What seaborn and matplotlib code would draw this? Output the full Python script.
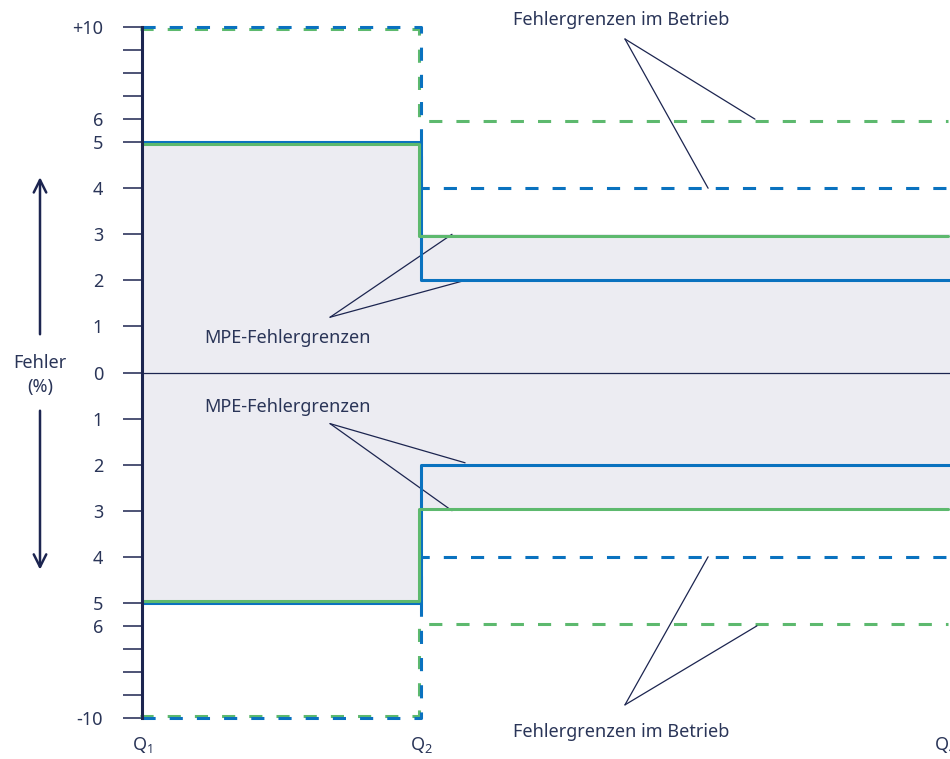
import numpy as np
import pandas as pd
import matplotlib
matplotlib.use('Agg')
import matplotlib.pyplot as plt
import matplotlib.transforms as mtransforms
import seaborn as sns

# flow points on the x axis
q_labels = [r'$\mathrm{Q}_1$', r'$\mathrm{Q}_2$', r'$\mathrm{Q}_4$']
q_pos = [0, 1, 2.88]
x_end = 2.896

# error limits in %, before Q2 / from Q2 on
mpe_blue = [5, 2]
mpe_green = [5, 3]
betrieb_blue = [10, 4]
betrieb_green = [10, 6]

ytick_vals = [10, 6, 5, 4, 3, 2, 1, 0, -1, -2, -3, -4, -5, -6, -10]
ytick_labels = ['+10', '6', '5', '4', '3', '2', '1', '0', '1', '2', '3', '4', '5', '6', '-10']
minor_vals = [9, 8, 7, -7, -8, -9]

BLUE = '#0A72BF'
GREEN = '#5DB96E'
NAVY = '#1C2550'
TEXT = '#2A3558'
FILL = '#ECECF2'
FS = 13

sns.set_style('white')
plt.rcParams['font.family'] = ['Noto Sans', 'DejaVu Sans']
plt.rcParams['mathtext.fontset'] = 'custom'
plt.rcParams['mathtext.rm'] = 'Noto Sans'
plt.rcParams['mathtext.it'] = 'Noto Sans'


# axis is compressed above |5|
def fwd(y):
    y = np.asarray(y, dtype=float)
    a = np.abs(y)
    return np.where(a <= 5, y, np.sign(y) * (5 + (a - 5) * 0.5))


def inv(t):
    t = np.asarray(t, dtype=float)
    a = np.abs(t)
    return np.where(a <= 5, t, np.sign(t) * (5 + (a - 5) * 2))


def step(limits, sign):
    before, after = limits
    return pd.DataFrame({'x': [0, q_pos[1], q_pos[1], x_end],
                         'y': [sign * before, sign * before, sign * after, sign * after]})


fig = plt.figure(figsize=(9.5, 7.59), dpi=100)
ax = fig.add_axes([142 / 950, 41 / 759, 1 - 142 / 950, 691 / 759])
ax.set_yscale('function', functions=(fwd, inv))

# grey area between the MPE limits
up = step(mpe_green, 1)
lo = step(mpe_green, -1)
ax.fill_between(up['x'], lo['y'], up['y'], color=FILL, lw=0, zorder=0)
ax.axhline(0, color=NAVY, lw=0.9, zorder=1)

dash = (0, (4.3, 4.6))
for sign in [1, -1]:
    off = mtransforms.offset_copy(ax.transData, fig=fig, x=-2, y=-2 * sign, units='dots')
    sns.lineplot(data=step(betrieb_green, sign), x='x', y='y', estimator=None, sort=False,
                 color=GREEN, lw=2.2, linestyle=dash, transform=off, clip_on=False, ax=ax, zorder=3)
    sns.lineplot(data=step(betrieb_blue, sign), x='x', y='y', estimator=None, sort=False,
                 color=BLUE, lw=2.2, linestyle=dash, clip_on=False, ax=ax, zorder=3)
    sns.lineplot(data=step(mpe_blue, sign), x='x', y='y', estimator=None, sort=False,
                 color=BLUE, lw=2.2, ax=ax, zorder=4)
    sns.lineplot(data=step(mpe_green, sign), x='x', y='y', estimator=None, sort=False,
                 color=GREEN, lw=2.2, transform=off, ax=ax, zorder=4)

ax.set_xlim(0, x_end)
ax.set_ylim(-10, 10)
ax.set_xlabel('')
ax.set_ylabel('')

ax.set_yticks(ytick_vals, ytick_labels)
ax.set_yticks(minor_vals, minor=True)
ax.tick_params(axis='y', which='both', length=14, width=1.1, color=NAVY,
               labelcolor=TEXT, labelsize=FS, pad=14, left=True)
ax.set_xticks(q_pos, q_labels)
ax.tick_params(axis='x', length=0, pad=12, labelcolor=TEXT, labelsize=FS)

for s in ['top', 'right', 'bottom']:
    ax.spines[s].set_visible(False)
ax.spines['left'].set_color(NAVY)
ax.spines['left'].set_linewidth(2.2)
ax.spines['left'].set_zorder(5)

# annotations
ann = dict(arrowstyle='-', color=NAVY, lw=0.9, shrinkA=0, shrinkB=0)
fig.text(621 / 950, 1 - 20 / 759, 'Fehlergrenzen im Betrieb', ha='center', va='center',
         color=TEXT, fontsize=FS)
ax.annotate('', xy=(2.197, 6), xytext=(1.731, 9.48), arrowprops=ann, annotation_clip=False)
ax.annotate('', xy=(2.029, 4), xytext=(1.731, 9.48), arrowprops=ann, annotation_clip=False)

fig.text(621 / 950, 1 - 732 / 759, 'Fehlergrenzen im Betrieb', ha='center', va='center',
         color=TEXT, fontsize=FS)
ax.annotate('', xy=(2.029, -4), xytext=(1.731, -9.43), arrowprops=ann, annotation_clip=False)
ax.annotate('', xy=(2.204, -6), xytext=(1.731, -9.43), arrowprops=ann, annotation_clip=False)

ax.text(0.52, 0.74, 'MPE-Fehlergrenzen', ha='center', va='center', color=TEXT, fontsize=FS)
ax.annotate('', xy=(1.111, 3), xytext=(0.674, 1.2), arrowprops=ann)
ax.annotate('', xy=(1.158, 2), xytext=(0.674, 1.2), arrowprops=ann)

ax.text(0.52, -0.74, 'MPE-Fehlergrenzen', ha='center', va='center', color=TEXT, fontsize=FS)
ax.annotate('', xy=(1.158, -1.96), xytext=(0.674, -1.11), arrowprops=ann)
ax.annotate('', xy=(1.111, -3), xytext=(0.674, -1.11), arrowprops=ann)

# y label with arrows
xf = 40 / 950
arr = dict(arrowstyle='->,head_length=0.9,head_width=0.45', color=NAVY, lw=1.8,
           shrinkA=0, shrinkB=0)
ax.annotate('', xy=(xf, 4.24), xytext=(xf, 0.83), xycoords=('figure fraction', 'data'),
            textcoords=('figure fraction', 'data'), arrowprops=arr, annotation_clip=False)
ax.annotate('', xy=(xf, -4.28), xytext=(xf, -0.83), xycoords=('figure fraction', 'data'),
            textcoords=('figure fraction', 'data'), arrowprops=arr, annotation_clip=False)
ax.annotate('Fehler\n(%)', xy=(xf, -0.06), xycoords=('figure fraction', 'data'),
            ha='center', va='center', color=TEXT, fontsize=FS, linespacing=1.4,
            annotation_clip=False)

fig.savefig('out.png', dpi=100)
